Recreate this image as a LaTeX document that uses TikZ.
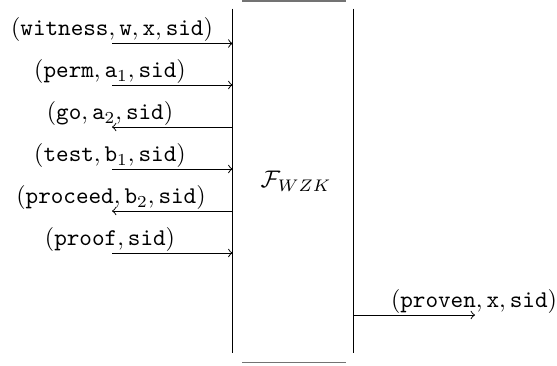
\documentclass[tikz,border=0pt]{standalone}
\usepackage{amsmath}
\begin{document}
\begin{tikzpicture}[x=0.41667pt, y=-0.41667pt,
  lab/.style={anchor=base, inner sep=0pt},
  msg/.style={->},
  edge/.style={draw=black!55, line width=0.6pt}]
\useasboundingbox (0,0) rectangle (557,365);
% functionality box
\node (F) [minimum width=50pt, minimum height=143.33pt, inner sep=0pt] at (293,181) {};
\node (FL) at (296,181) {$\mathcal{F}_{WZK}$};
\draw (F.north west) -- (F.south west);
\draw (F.north east) -- (F.south east);
\coordinate (t1) at (242,0.8);
\coordinate (t2) at (346,0.8);
\coordinate (b1) at (242,362.5);
\coordinate (b2) at (346,362.5);
\draw[edge] (t1) -- (t2);
\draw[edge] (b1) -- (b2);
% left messages
\coordinate (m1) at (112,43.5);
\coordinate (m2) at (112,85);
\coordinate (m3) at (112,127);
\coordinate (m4) at (112,169);
\coordinate (m5) at (112,211);
\coordinate (m6) at (112,253);
\draw[msg] (m1) -- (m1 -| F.west);
\draw[msg] (m2) -- (m2 -| F.west);
\draw[msg] (m3 -| F.west) -- (m3);
\draw[msg] (m4) -- (m4 -| F.west);
\draw[msg] (m5 -| F.west) -- (m5);
\draw[msg] (m6) -- (m6 -| F.west);
\node[lab] (l1) at (112,35.5) {$(\mathtt{witness}, \mathtt{w}, \mathtt{x}, \mathtt{sid})$};
\node[lab] (l2) at (110,77.5) {$(\mathtt{perm}, \mathtt{a}_1, \mathtt{sid})$};
\node[lab] (l3) at (110,119.5) {$(\mathtt{go}, \mathtt{a}_2, \mathtt{sid})$};
\node[lab] (l4) at (110,161.5) {$(\mathtt{test}, \mathtt{b}_1, \mathtt{sid})$};
\node[lab] (l5) at (111,203.5) {$(\mathtt{proceed}, \mathtt{b}_2, \mathtt{sid})$};
\node[lab] (l6) at (110,245.5) {$(\mathtt{proof}, \mathtt{sid})$};
% right message
\coordinate (r1) at (475,315);
\draw[msg] (r1 -| F.east) -- (r1);
\node[lab] (l7) at (474,307.5) {$(\mathtt{proven}, \mathtt{x}, \mathtt{sid})$};
\end{tikzpicture}
\end{document}
